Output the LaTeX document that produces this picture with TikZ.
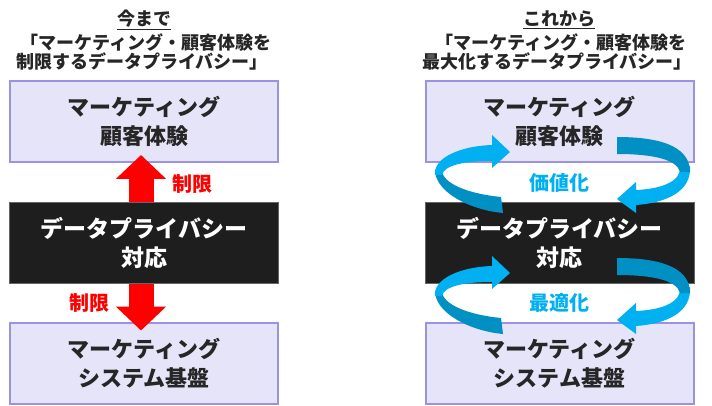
\documentclass[tikz,border=0pt]{standalone}
\usepackage{fontspec}
\setmainfont{Noto Sans CJK JP}
\usetikzlibrary{arrows.meta,calc}
\definecolor{boxfill}{HTML}{E6E4F8}
\definecolor{boxline}{HTML}{9B92E6}
\definecolor{blk}{HTML}{1E1E1E}
\definecolor{lblue}{HTML}{00B0F0}
\definecolor{dblue}{HTML}{0090C4}
\definecolor{rd}{HTML}{FF0000}
\begin{document}
\begin{tikzpicture}[x=1pt,y=-1pt,
  lbox/.style={draw=boxline,line width=2pt,fill=boxfill,minimum width=268pt,minimum height=81pt,
    align=center,inner sep=0pt,font=\bfseries\fontsize{22}{29}\selectfont,text=black!85},
  bbox/.style={draw=black!60,line width=0.8pt,fill=blk,minimum width=269pt,minimum height=81pt,
    align=center,inner sep=0pt,font=\bfseries\fontsize{23}{29}\selectfont,text=white},
  ttl/.style={font=\bfseries\fontsize{18}{20}\selectfont,text=black!85,inner sep=0pt},
  rlab/.style={font=\bfseries\fontsize{20}{22}\selectfont,text=rd,inner sep=0pt},
  blab/.style={font=\bfseries\fontsize{20}{22}\selectfont,text=lblue,inner sep=0pt},
  redarr/.style={line width=25pt,draw=rd,-{Triangle[width=49pt,length=24pt]}},
  loop/.pic={
    % right arrow
    \fill[lblue] (690,166) .. controls (692,192) and (665,203) .. (636,205) -- (636,213) -- (617,199)
      -- (636,182) -- (636,190) .. controls (660,189) and (682,182) .. (680,166) -- cycle;
    \fill[dblue] (617,137) .. controls (668,137) and (690,150) .. (690,172)
      -- (680,172) .. controls (677,160) and (655,154) .. (617,154) -- cycle;
    % left arrow
    \fill[dblue] (501,197) .. controls (470,194) and (442,184) .. (442,170)
      -- (435,170) .. controls (435,192) and (470,210) .. (503,213) -- cycle;
    \fill[lblue] (435,175) .. controls (433,158) and (460,146) .. (492,145) -- (492,135) -- (510,152)
      -- (492,168) -- (492,161) .. controls (465,161) and (444,165) .. (442,175) -- cycle;
  }]
\useasboundingbox (0,0) rectangle (712,406);
% titles
\node[ttl] (lt1) at (144,20) {\underline{今まで}};
\node[ttl] (lt2) at (146,42) {「マーケティング・顧客体験を};
\node[ttl] (lt3) at (142,61) {制限するデータプライバシー」};
\node[ttl] (rt1) at (559,20) {\underline{これから}};
\node[ttl] (rt2) at (561,42) {「マーケティング・顧客体験を};
\node[ttl] (rt3) at (557,61) {最大化するデータプライバシー」};
% left column
\node[lbox] (ltop) at (144,121.5) {マーケティング\\顧客体験};
\node[lbox] (lbot) at (144,363) {マーケティング\\システム基盤};
\draw[redarr] ([xshift=-3pt]ltop.south |- 0,205) -- ([xshift=-3pt,yshift=8pt]ltop.south);
\draw[redarr] ([xshift=-3pt]lbot.north |- 0,280) -- ([xshift=-3pt,yshift=-9pt]lbot.north);
\node[bbox] (lblk) at (144,243) {データプライバシー\\対応};
\node[rlab] (lr1) at (192,184) {制限};
\node[rlab] (lr2) at (89,303) {制限};
% right column
\node[lbox] (rtop) at (559.5,121.5) {マーケティング\\顧客体験};
\node[lbox] (rbot) at (559.5,363) {マーケティング\\システム基盤};
\node[bbox] (rblk) at (559.5,243) {データプライバシー\\対応};
\pic at (0,0) {loop};
\pic at (0,121) {loop};
\node[blab] (b1) at (559,183) {価値化};
\node[blab] (b2) at (559,303) {最適化};
\end{tikzpicture}
\end{document}
